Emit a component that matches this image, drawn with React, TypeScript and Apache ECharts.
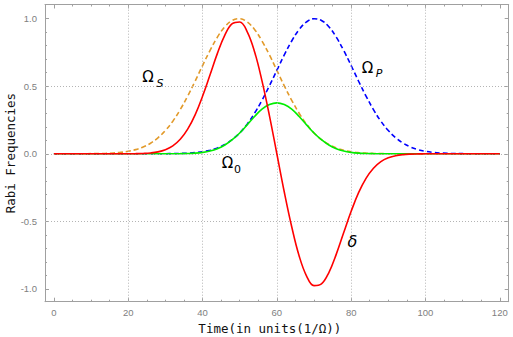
import React, { useEffect, useRef } from "react";
import * as echarts from "echarts";

const time = [0, 2, 4, 6, 8, 10, 12, 14, 16, 18, 20, 22, 24, 26, 28, 30, 32, 34, 36, 38, 40, 42, 44, 46, 48, 50, 52, 54, 56, 58, 60, 62, 64, 66, 68, 70, 72, 74, 76, 78, 80, 82, 84, 86, 88, 90, 92, 94, 96, 98, 100, 102, 104, 106, 108, 110, 112, 114, 116, 118, 120];

const omegaS = [0, 0, 0.0001, 0.0002, 0.0004, 0.0008, 0.0016, 0.0031, 0.0058, 0.0105, 0.0183, 0.0308, 0.05, 0.078, 0.118, 0.172, 0.241, 0.327, 0.427, 0.537, 0.653, 0.764, 0.863, 0.94, 0.987, 1.0, 0.976, 0.92, 0.835, 0.732, 0.618, 0.503, 0.396, 0.3, 0.219, 0.154, 0.105, 0.0687, 0.0434, 0.0265, 0.0156, 0.0088, 0.0048, 0.0025, 0.0013, 0.0006, 0.0003, 0.0001, 0.0001, 0, 0, 0, 0, 0, 0, 0, 0, 0, 0, 0, 0];

const omegaP = [0, 0, 0, 0, 0, 0, 0, 0, 0, 0, 0, 0, 0.0001, 0.0001, 0.0003, 0.0006, 0.0013, 0.0025, 0.0048, 0.0088, 0.0156, 0.0265, 0.0434, 0.0687, 0.105, 0.154, 0.219, 0.3, 0.396, 0.503, 0.618, 0.732, 0.835, 0.92, 0.976, 1.0, 0.987, 0.94, 0.863, 0.764, 0.653, 0.537, 0.427, 0.327, 0.241, 0.172, 0.118, 0.078, 0.05, 0.0308, 0.0183, 0.0105, 0.0058, 0.0031, 0.0016, 0.0008, 0.0004, 0.0002, 0.0001, 0, 0];

const omega0 = [0, 0, 0, 0, 0, 0, 0, 0, 0, 0, 0, 0, 0, 0, 0, 0, 0.0003, 0.0008, 0.002, 0.0047, 0.0102, 0.0202, 0.0375, 0.0646, 0.104, 0.154, 0.214, 0.276, 0.331, 0.364, 0.377, 0.364, 0.331, 0.276, 0.214, 0.154, 0.104, 0.0646, 0.0375, 0.0202, 0.0102, 0.0047, 0.002, 0.0008, 0.0003, 0, 0, 0, 0, 0, 0, 0, 0, 0, 0, 0, 0, 0, 0, 0, 0];

const delta = [0, 0, 0, 0, 0, 0, 0, 0, 0, 0, 0.0003, 0.001, 0.0025, 0.006, 0.014, 0.03, 0.058, 0.107, 0.182, 0.288, 0.426, 0.583, 0.743, 0.879, 0.963, 0.976, 0.905, 0.756, 0.54, 0.283, 0, -0.283, -0.54, -0.756, -0.905, -0.976, -0.963, -0.879, -0.743, -0.583, -0.426, -0.288, -0.182, -0.107, -0.058, -0.03, -0.014, -0.006, -0.0025, -0.001, -0.0003, 0, 0, 0, 0, 0, 0, 0, 0, 0, 0];

const xMajorTicks = [0, 20, 40, 60, 80, 100, 120];
const xMinorTicks = [0, 5, 10, 15, 20, 25, 30, 35, 40, 45, 50, 55, 60, 65, 70, 75, 80, 85, 90, 95, 100, 105, 110, 115, 120];
const yMajorTicks = [-1, -0.5, 0, 0.5, 1];
const yMinorTicks = [-1, -0.9, -0.8, -0.7, -0.6, -0.5, -0.4, -0.3, -0.2, -0.1, 0, 0.1, 0.2, 0.3, 0.4, 0.5, 0.6, 0.7, 0.8, 0.9, 1];
const gridX = [20, 40, 60, 80, 100];
const gridY = [-0.5, 0, 0.5];

const X_MIN = -2.4;
const X_MAX = 122.4;
const Y_MIN = -1.095;
const Y_MAX = 1.105;

const FRAME = "#a0a0a0";
const LABEL = "#808080";

export default function App() {
  const ref = useRef<HTMLDivElement>(null);
  useEffect(() => {
    if (!ref.current) return;
    const chart = echarts.init(ref.current, undefined, { renderer: "svg" });

    const xAxisBase = (position: string, major: boolean, showLabel: boolean, showLine: boolean) => ({
      type: "value",
      position,
      min: X_MIN,
      max: X_MAX,
      axisLine: { show: showLine, onZero: false, lineStyle: { color: FRAME, width: 1 } },
      axisTick: {
        show: true,
        inside: true,
        length: major ? 4 : 2,
        customValues: major ? xMajorTicks : xMinorTicks,
        lineStyle: { color: FRAME, width: 1 },
      },
      axisLabel: showLabel
        ? {
            show: true,
            customValues: xMajorTicks,
            color: LABEL,
            fontSize: 9.5,
            fontFamily: "Liberation Sans",
            margin: 6,
          }
        : { show: false },
      splitLine: { show: false },
    });

    const yAxisBase = (position: string, major: boolean, showLabel: boolean, showLine: boolean) => ({
      type: "value",
      position,
      min: Y_MIN,
      max: Y_MAX,
      axisLine: { show: showLine, onZero: false, lineStyle: { color: FRAME, width: 1 } },
      axisTick: {
        show: true,
        inside: true,
        length: major ? 4 : 2,
        customValues: major ? yMajorTicks : yMinorTicks,
        lineStyle: { color: FRAME, width: 1 },
      },
      axisLabel: showLabel
        ? {
            show: true,
            customValues: yMajorTicks,
            color: LABEL,
            fontSize: 9.5,
            fontFamily: "Liberation Sans",
            margin: 8,
            formatter: (v: number) => v.toFixed(1),
          }
        : { show: false },
      splitLine: { show: false },
    });

    const xMain: any = xAxisBase("bottom", true, true, true);
    xMain.name = "Time(in units(1/Ω))";
    xMain.nameLocation = "middle";
    xMain.nameGap = 20;
    xMain.nameMoveOverlap = false;
    xMain.nameTextStyle = {
      fontFamily: "DejaVu Sans Mono",
      fontSize: 12.5,
      color: "#111",
      padding: [0, 14, 0, 0],
    };

    const yMain: any = yAxisBase("left", true, true, true);
    yMain.name = "Rabi Frequencies";
    yMain.nameLocation = "middle";
    yMain.nameGap = 28;
    yMain.nameMoveOverlap = false;
    yMain.nameTextStyle = {
      fontFamily: "DejaVu Sans Mono",
      fontSize: 12.5,
      color: "#111",
    };

    const mk = (vals: number[]) => time.map((t, i) => [t, vals[i]]);

    const lineSeries = (name: string, vals: number[], color: string, dashed: boolean, z: number) => ({
      type: "line",
      name,
      xAxisIndex: 0,
      yAxisIndex: 0,
      data: mk(vals),
      showSymbol: false,
      symbol: "none",
      smooth: 0.4,
      z,
      lineStyle: { color, width: 1.6, type: dashed ? [5, 3] : "solid" },
    });

    const option: any = {
      animation: false,
      backgroundColor: "#ffffff",
      grid: {
        left: 45,
        right: 4.3,
        top: 4.5,
        bottom: 35.3,
        containLabel: false,
        outerBoundsMode: "none",
      },
      xAxis: [
        xMain,
        xAxisBase("bottom", false, false, false),
        xAxisBase("top", true, false, true),
        xAxisBase("top", false, false, false),
      ],
      yAxis: [
        yMain,
        yAxisBase("left", false, false, false),
        yAxisBase("right", true, false, true),
        yAxisBase("right", false, false, false),
      ],
      series: [
        {
          type: "line",
          name: "grid",
          xAxisIndex: 0,
          yAxisIndex: 0,
          data: [],
          z: 1,
          markLine: {
            silent: true,
            symbol: ["none", "none"],
            label: { show: false },
            lineStyle: { color: "#b4b4b4", width: 1, type: [1, 2] },
            data: [
              ...gridX.map((v) => ({ xAxis: v })),
              ...gridY.map((v) => ({ yAxis: v })),
            ],
          },
        },
        lineSeries("ΩS", omegaS, "#E29A2A", true, 2),
        lineSeries("ΩP", omegaP, "#0000FF", true, 3),
        lineSeries("Ω0", omega0, "#00EE00", false, 4),
        lineSeries("δ", delta, "#FF0000", false, 5),
      ],
      graphic: [
        { type: "text", x: 148, y: 77, z: 10, style: { text: "Ω", fontSize: 15, fontFamily: "DejaVu Sans", fill: "#000", align: "center", verticalAlign: "middle" } },
        { type: "text", x: 160, y: 83, z: 10, style: { text: "S", fontSize: 11, fontStyle: "italic", fontFamily: "DejaVu Sans", fill: "#000", align: "center", verticalAlign: "middle" } },
        { type: "text", x: 367.5, y: 67.5, z: 10, style: { text: "Ω", fontSize: 15, fontFamily: "DejaVu Sans", fill: "#000", align: "center", verticalAlign: "middle" } },
        { type: "text", x: 379, y: 73, z: 10, style: { text: "P", fontSize: 11, fontStyle: "italic", fontFamily: "DejaVu Sans", fill: "#000", align: "center", verticalAlign: "middle" } },
        { type: "text", x: 227.5, y: 162.5, z: 10, style: { text: "Ω", fontSize: 15, fontFamily: "DejaVu Sans", fill: "#000", align: "center", verticalAlign: "middle" } },
        { type: "text", x: 237.5, y: 169, z: 10, style: { text: "0", fontSize: 11, fontFamily: "DejaVu Sans", fill: "#000", align: "center", verticalAlign: "middle" } },
        { type: "text", x: 352.5, y: 241, z: 10, style: { text: "δ", fontSize: 16, fontStyle: "italic", fontFamily: "DejaVu Sans", fill: "#000", align: "center", verticalAlign: "middle" } },
      ],
    };

    chart.setOption(option);
    return () => {
      chart.dispose();
    };
  }, []);

  return (
    <div
      ref={ref}
      style={{ position: "absolute", left: 0, top: 0, width: 513, height: 337 }}
    />
  );
}
